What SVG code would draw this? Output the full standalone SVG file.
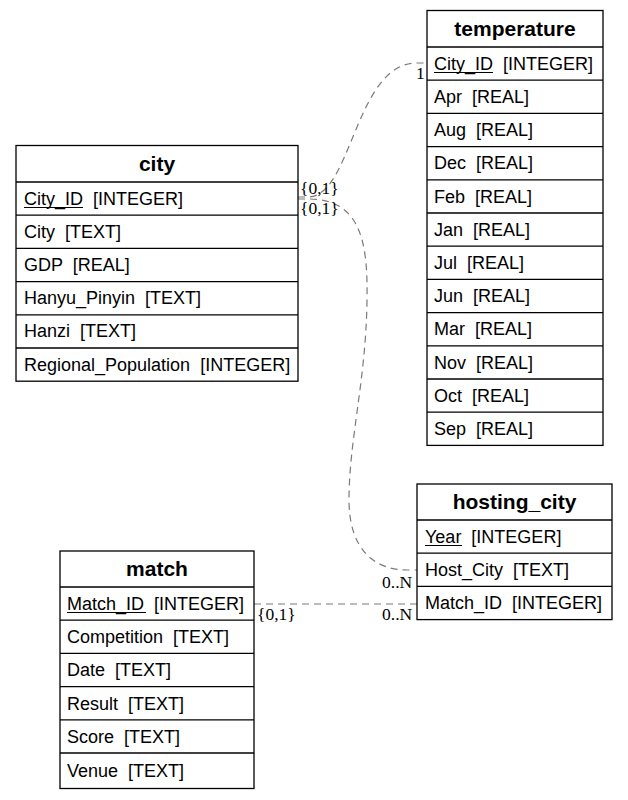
<svg xmlns="http://www.w3.org/2000/svg" width="628" height="800" viewBox="0 0 628 800">
<style>
.box{fill:#fff;stroke:#000;stroke-width:1.3}
.sep{stroke:#000;stroke-width:1.3}
.hdr{font-family:"Liberation Sans",Arial,sans-serif;font-weight:bold;font-size:21px;text-anchor:middle;fill:#000}
.fld{font-family:"Liberation Sans",Arial,sans-serif;font-size:18px;fill:#000;white-space:pre}
.ul{stroke:#000;stroke-width:1.2}
.edge{fill:none;stroke:#7a7a7a;stroke-width:1.2;stroke-dasharray:7,5}
.lbl{font-family:"Liberation Serif","Times New Roman",serif;font-size:17.5px;fill:#000}
</style>
<rect width="628" height="800" fill="#fff"/>
<g id="connectors">
<path class="edge" d="M298,197 L308,197 C352,197 355,63 417,63 L427,63"/>
<path class="edge" d="M298,199 L308,199 C360,199 368,240 367,300 C366,380 349,440 349,500 C349,550 375,570 407,570 L417,570"/>
<path class="edge" d="M254,604 L417,604"/>
<text class="lbl" x="300" y="194">{0,1}</text>
<text class="lbl" x="416" y="79">1</text>
<text class="lbl" x="300" y="214">{0,1}</text>
<text class="lbl" x="382" y="588">0..N</text>
<text class="lbl" x="257" y="620">{0,1}</text>
<text class="lbl" x="382" y="620">0..N</text>
</g>
<g id="city">
<rect class="box" x="16" y="145.5" width="282" height="235.7"/>
<text class="hdr" x="157" y="171">city</text>
<line class="sep" x1="16" y1="182" x2="298" y2="182"/>
<line class="sep" x1="16" y1="215.2" x2="298" y2="215.2"/>
<line class="sep" x1="16" y1="248.4" x2="298" y2="248.4"/>
<line class="sep" x1="16" y1="281.6" x2="298" y2="281.6"/>
<line class="sep" x1="16" y1="314.8" x2="298" y2="314.8"/>
<line class="sep" x1="16" y1="348" x2="298" y2="348"/>
<text class="fld" x="24" y="205">City_ID  [INTEGER]</text>
<line class="ul" x1="24" y1="207.5" x2="83" y2="207.5"/>
<text class="fld" x="24" y="238">City  [TEXT]</text>
<text class="fld" x="24" y="271">GDP  [REAL]</text>
<text class="fld" x="24" y="304">Hanyu_Pinyin  [TEXT]</text>
<text class="fld" x="24" y="337">Hanzi  [TEXT]</text>
<text class="fld" x="24" y="371">Regional_Population  [INTEGER]</text>
</g>
<g id="temperature">
<rect class="box" x="427" y="10.5" width="176" height="434.9"/>
<text class="hdr" x="515" y="36">temperature</text>
<line class="sep" x1="427" y1="47" x2="603" y2="47"/>
<line class="sep" x1="427" y1="80.2" x2="603" y2="80.2"/>
<line class="sep" x1="427" y1="113.4" x2="603" y2="113.4"/>
<line class="sep" x1="427" y1="146.6" x2="603" y2="146.6"/>
<line class="sep" x1="427" y1="179.8" x2="603" y2="179.8"/>
<line class="sep" x1="427" y1="213" x2="603" y2="213"/>
<line class="sep" x1="427" y1="246.2" x2="603" y2="246.2"/>
<line class="sep" x1="427" y1="279.4" x2="603" y2="279.4"/>
<line class="sep" x1="427" y1="312.6" x2="603" y2="312.6"/>
<line class="sep" x1="427" y1="345.8" x2="603" y2="345.8"/>
<line class="sep" x1="427" y1="379" x2="603" y2="379"/>
<line class="sep" x1="427" y1="412.2" x2="603" y2="412.2"/>
<text class="fld" x="434" y="70">City_ID  [INTEGER]</text>
<line class="ul" x1="434" y1="72.5" x2="493" y2="72.5"/>
<text class="fld" x="434" y="103">Apr  [REAL]</text>
<text class="fld" x="434" y="136">Aug  [REAL]</text>
<text class="fld" x="434" y="169">Dec  [REAL]</text>
<text class="fld" x="434" y="203">Feb  [REAL]</text>
<text class="fld" x="434" y="236">Jan  [REAL]</text>
<text class="fld" x="434" y="269">Jul  [REAL]</text>
<text class="fld" x="434" y="302">Jun  [REAL]</text>
<text class="fld" x="434" y="335">Mar  [REAL]</text>
<text class="fld" x="434" y="369">Nov  [REAL]</text>
<text class="fld" x="434" y="402">Oct  [REAL]</text>
<text class="fld" x="434" y="435">Sep  [REAL]</text>
</g>
<g id="hosting_city">
<rect class="box" x="417" y="484" width="195" height="135.6"/>
<text class="hdr" x="514.5" y="509">hosting_city</text>
<line class="sep" x1="417" y1="520" x2="612" y2="520"/>
<line class="sep" x1="417" y1="553.2" x2="612" y2="553.2"/>
<line class="sep" x1="417" y1="586.4" x2="612" y2="586.4"/>
<text class="fld" x="425" y="543">Year  [INTEGER]</text>
<line class="ul" x1="425" y1="545.5" x2="462" y2="545.5"/>
<text class="fld" x="425" y="576">Host_City  [TEXT]</text>
<text class="fld" x="425" y="609">Match_ID  [INTEGER]</text>
</g>
<g id="match">
<rect class="box" x="60" y="551" width="194" height="237.5"/>
<text class="hdr" x="157" y="576">match</text>
<line class="sep" x1="60" y1="587" x2="254" y2="587"/>
<line class="sep" x1="60" y1="620.2" x2="254" y2="620.2"/>
<line class="sep" x1="60" y1="653.4" x2="254" y2="653.4"/>
<line class="sep" x1="60" y1="686.6" x2="254" y2="686.6"/>
<line class="sep" x1="60" y1="719.8" x2="254" y2="719.8"/>
<line class="sep" x1="60" y1="753" x2="254" y2="753"/>
<text class="fld" x="67" y="610">Match_ID  [INTEGER]</text>
<line class="ul" x1="67" y1="612.5" x2="146" y2="612.5"/>
<text class="fld" x="67" y="643">Competition  [TEXT]</text>
<text class="fld" x="67" y="676">Date  [TEXT]</text>
<text class="fld" x="67" y="710">Result  [TEXT]</text>
<text class="fld" x="67" y="743">Score  [TEXT]</text>
<text class="fld" x="67" y="777">Venue  [TEXT]</text>
</g>
</svg>
